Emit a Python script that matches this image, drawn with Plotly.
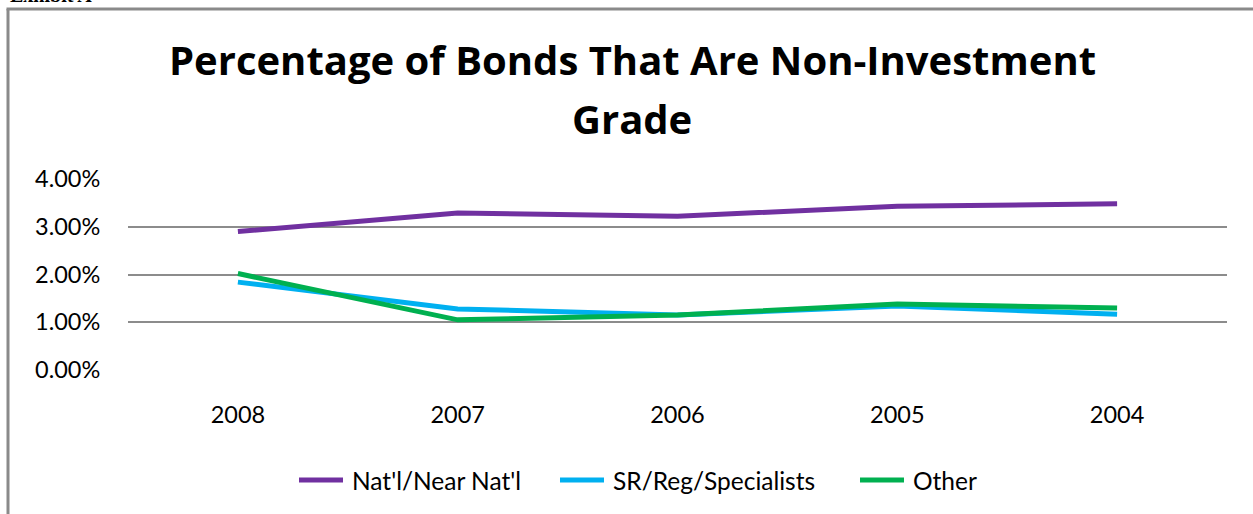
import plotly.graph_objects as go

years = ["2008", "2007", "2006", "2005", "2004"]
natl = [2.90, 3.29, 3.22, 3.43, 3.48]
sr_reg = [1.84, 1.28, 1.15, 1.34, 1.17]
other = [2.02, 1.05, 1.15, 1.38, 1.30]
series_names = ["Nat'l/Near Nat'l", "SR/Reg/Specialists", "Other"]
colors = ["#7030A0", "#00B0F0", "#00B050"]
y_ticks = [0, 1, 2, 3, 4]
y_tick_labels = ["0.00%", "1.00%", "2.00%", "3.00%", "4.00%"]

W, H = 1253, 514
L, R, T, B = 128, 1227, 179, 370  # plot area in pixels


def px(x):
    return (x - L) / (R - L)


def py(y):
    return (B - y) / (B - T)


fig = go.Figure()
for name, vals, col in zip(series_names, [natl, sr_reg, other], colors):
    fig.add_trace(go.Scatter(x=years, y=vals, name=name, mode="lines",
                             line=dict(color=col, width=5), showlegend=False))

font_main = "Lato, 'Open Sans', sans-serif"

fig.update_layout(
    width=W, height=H,
    margin=dict(l=L, r=W - R, t=T, b=H - B),
    paper_bgcolor="white", plot_bgcolor="white",
    font=dict(family=font_main, color="#000000", size=23),
    showlegend=False,
    xaxis=dict(type="category", range=[-0.5, 4.5], showgrid=False, showline=False,
               zeroline=False, ticks="outside", ticklen=24, tickcolor="rgba(0,0,0,0)",
               tickfont=dict(size=23.5)),
    yaxis=dict(range=[0, 4], tickvals=y_ticks, ticktext=y_tick_labels, showgrid=True,
               gridcolor="#8c8c8c", gridwidth=1.6, zeroline=False, showline=False,
               ticks="outside", ticklen=22, tickcolor="rgba(0,0,0,0)",
               tickfont=dict(size=23.5)),
)

# Legend (drawn as line swatches + labels, like the source chart)
legend_starts = [297, 558, 858]
for name, col, x0 in zip(series_names, colors, legend_starts):
    fig.add_shape(type="line", xref="paper", yref="paper", x0=px(x0 + 2), x1=px(x0 + 46),
                  y0=py(480), y1=py(480), line=dict(color=col, width=5))
    fig.add_annotation(text=name, xref="paper", yref="paper", x=px(x0 + 53), y=py(480),
                       xanchor="left", yanchor="middle", showarrow=False,
                       font=dict(size=24.5, family=font_main, color="#000"))

title_font = "'Open Sans', Lato, sans-serif"
fig.add_annotation(text="<b>Percentage of Bonds That Are Non-Investment</b>", xref="paper", yref="paper",
                   x=px(632), y=py(59), xanchor="center", yanchor="middle", showarrow=False,
                   font=dict(size=40, family=title_font, color="#000"))
fig.add_annotation(text="<b>Grade</b>", xref="paper", yref="paper",
                   x=px(632), y=py(119), xanchor="center", yanchor="middle", showarrow=False,
                   font=dict(size=40, family=title_font, color="#000"))
# Cut-off caption above the frame
fig.add_annotation(text="<b>Exhibit A</b>", xref="paper", yref="paper",
                   x=px(8), y=py(8), xanchor="left", yanchor="bottom", showarrow=False,
                   font=dict(size=20, family="Liberation Serif, serif", color="#000"))

# Frame around the chart (left and top edges visible)
fig.add_shape(type="line", xref="paper", yref="paper", x0=px(8), x1=px(8), y0=py(9), y1=py(520),
              line=dict(color="#8a8a8a", width=3))
fig.add_shape(type="line", xref="paper", yref="paper", x0=px(6.5), x1=px(1260), y0=py(9), y1=py(9),
              line=dict(color="#8a8a8a", width=3))

fig.write_html("out.html", config={"displayModeBar": False},
               post_script="document.body.style.margin='0px';")
